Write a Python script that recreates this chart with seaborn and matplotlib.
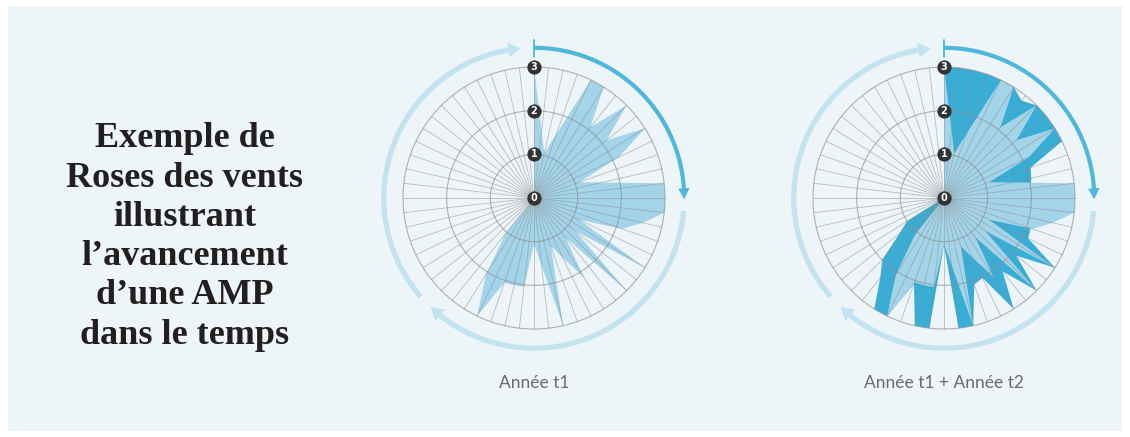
import numpy as np
import pandas as pd
import matplotlib
matplotlib.use("Agg")
import matplotlib.pyplot as plt
import seaborn as sns

# ---------------- data ----------------
n_spokes = 56
spoke_index = list(range(n_spokes))
ring_labels = ["0", "1", "2", "3"]
ring_values = [0, 1, 2, 3]

# Année t1 (value on each spoke, clockwise from the top)
annee_t1 = [3.0, 1.55, 1.05, 1.55, 3.0, 3.0, 2.07, 3.0, 2.12, 3.0,
            2.16, 1.1, 1.6, 3.0, 3.0, 3.0, 2.56, 2.14, 1.15, 3.0,
            1.2, 3.0, 1.15, 2.15, 1.52, 1.17, 3.0, 1.55, 1.06, 2.05,
            2.05, 2.05, 3.0, 2.07, 1.05, 0, 0, 0, 0, 0,
            0, 0, 0, 0, 0, 0, 0, 0, 0, 0,
            0, 0, 0, 0, 0, 0]
# Année t2
annee_t2 = [3.0, 3.0, 3.0, 3.0, 3.0, 3.0, 2.85, 3.0, 3.0, 3.0,
            3.0, 2.1, 2.05, 2.0, 2.0, 2.0, 2.05, 2.1, 2.14, 3.0,
            2.12, 3.0, 2.15, 3.0, 2.03, 2.1, 3.0, 3.0, 1.08, 3.0,
            3.0, 2.08, 3.0, 3.0, 2.34, 2.0, 1.3, 1.0, 0, 0,
            0, 0, 0, 0, 0, 0, 0, 0, 0, 0,
            0, 0, 0, 0, 0, 0]

captions = ["Année t1", "Année t1 + Année t2"]
title_lines = ["Exemple de", "Roses des vents", "illustrant",
               "l’avancement", "d’une AMP", "dans le temps"]

df = pd.DataFrame({"spoke": spoke_index, "t1": annee_t1, "t2": annee_t2})
df["theta"] = df["spoke"] * 2 * np.pi / n_spokes   # clockwise from north


def to_xy(theta, r):
    theta = np.asarray(theta, dtype=float)
    r = np.asarray(r, dtype=float)
    return r * np.sin(theta), r * np.cos(theta)


# ---------------- style ----------------
sns.set_theme(style="white")
plt.rcParams["font.family"] = ["Lato", "DejaVu Sans"]

W, H = 1130, 437
fig = plt.figure(figsize=(W / 100, H / 100), dpi=100, facecolor="white")

panel = plt.Rectangle((8 / W, 6 / H), (1122 - 8) / W, (431 - 6) / H,
                      transform=fig.transFigure, facecolor="#edf5f9",
                      edgecolor="none", zorder=-10)
fig.patches.append(panel)

LIGHT = "#a4d4ea"
DARK = "#38add6"
ARC_DARK = "#4db7dc"
ARC_LIGHT = "#c3e3f1"
GRID = "#8c8c8c"

R_PX = 131            # pixel radius of ring 3
PX_PER_UNIT = R_PX / 3
LIM = 3.9             # half extent of each axes, in data units
HALF_PX = LIM * PX_PER_UNIT
centers = [(534, 198), (944, 198)]


def closed(values):
    return list(values) + [values[0]]


def draw_rose(ax, layers):
    ax.set_xlim(-LIM, LIM)
    ax.set_ylim(-LIM, LIM)
    ax.set_aspect("equal")
    ax.axis("off")

    th = closed(df["theta"].tolist())
    for col, color, z in layers:
        x, y = to_xy(th, closed(df[col].tolist()))
        ax.fill(x, y, color=color, lw=0, zorder=z)

    # grid circles
    tc = np.linspace(0, 2 * np.pi, 400)
    for r in ring_values[1:]:
        x, y = to_xy(tc, np.full_like(tc, r))
        sns.lineplot(x=x, y=y, ax=ax, color=GRID, lw=0.8, alpha=0.65,
                     zorder=5, sort=False, estimator=None)
    # spokes
    for t in df["theta"]:
        x, y = to_xy([t, t], [0, 3])
        ax.plot(x, y, color=GRID, lw=0.6, alpha=0.55, zorder=5)

    # outer arrows
    ra = 3.44

    def arc(a0, a1, color, lw):
        aa = np.linspace(np.deg2rad(a0), np.deg2rad(a1), 200)
        x, y = to_xy(aa, np.full_like(aa, ra))
        ax.plot(x, y, color=color, lw=lw, zorder=6, solid_capstyle="butt")

    def head(tip_deg, color, length_deg, half_w):
        tt = np.deg2rad(tip_deg)
        tb = np.deg2rad(tip_deg - length_deg)
        x, y = to_xy([tt, tb, tb], [ra, ra - half_w, ra + half_w])
        ax.fill(x, y, color=color, lw=0, zorder=6)

    arc(0, 87.5, ARC_DARK, 3.0)
    x, y = to_xy([0, 0], [3.22, 3.62])
    ax.plot(x, y, color=ARC_DARK, lw=1.3, zorder=6)
    head(90.5, ARC_DARK, 4.2, 0.13)

    for a0, a1, tip in [(95, 219.5, 223.5), (229, 350.5, 355)]:
        arc(a0, a1, ARC_LIGHT, 3.8)
        head(tip, ARC_LIGHT, 4.8, 0.17)

    # ring value badges
    bx, by = to_xy([0] * len(ring_values), ring_values)
    ax.scatter(bx, by, s=105, color="#333333", zorder=8, linewidths=0)
    for lab, xx, yy in zip(ring_labels, bx, by):
        ax.text(xx, yy, lab, color="white", fontsize=7, fontweight="bold",
                ha="center", va="center", zorder=9, family="DejaVu Sans")


axes = []
for cx, cy in centers:
    ax = fig.add_axes([(cx - HALF_PX) / W, (H - cy - HALF_PX) / H,
                       2 * HALF_PX / W, 2 * HALF_PX / H])
    ax.patch.set_alpha(0)
    axes.append(ax)

draw_rose(axes[0], [("t1", LIGHT, 2)])
draw_rose(axes[1], [("t2", DARK, 2), ("t1", LIGHT, 3)])

for (cx, cy), cap in zip(centers, captions):
    fig.text(cx / W, 1 - 383 / H, cap, ha="center", va="center",
             fontsize=12.5, color="#6a6a6a", fontweight="normal")

fig.text(185 / W, 1 - 237 / H, "\n".join(title_lines), ha="center",
         va="center", fontsize=26, fontweight="bold", color="#231f20",
         family=["Liberation Serif", "DejaVu Serif"], linespacing=1.25)

fig.savefig("out.png", dpi=100, facecolor="white")
